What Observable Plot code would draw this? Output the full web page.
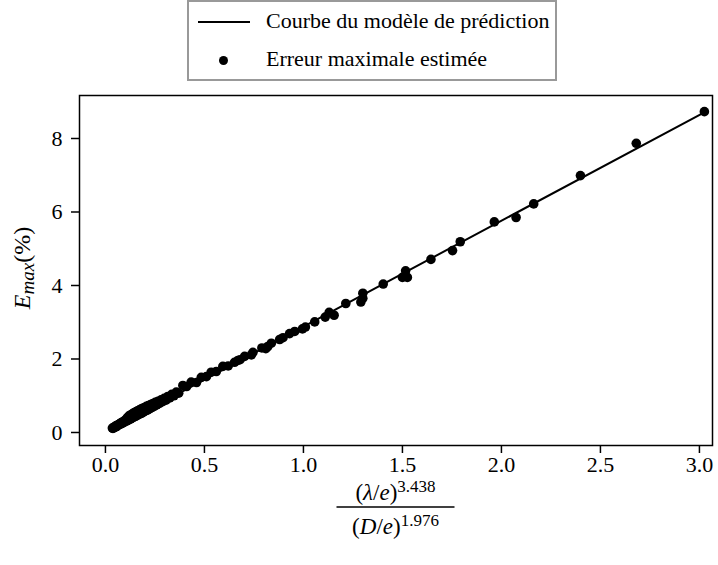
<!DOCTYPE html>
<html><head><meta charset="utf-8">
<script src="https://cdn.jsdelivr.net/npm/d3@7"></script>
<script src="https://cdn.jsdelivr.net/npm/@observablehq/plot@0.6"></script>
<style>
body{margin:0;background:#fff;}
#wrap{position:relative;width:718px;height:565px;font-family:"Liberation Serif",serif;overflow:hidden;}
#wrap svg{position:absolute;left:0;top:0;}
#legend{position:absolute;left:187px;top:0;width:366px;height:77px;border:2px solid #999;background:#fff;box-sizing:content-box;}
.row{position:absolute;left:0;height:30px;font-size:22px;line-height:30px;color:#000;white-space:nowrap;}
.row .lbl{position:absolute;left:77px;top:0;}
.row .ln{position:absolute;left:9px;top:15px;width:52px;height:2px;background:#000;}
.row .dt{position:absolute;left:30px;top:12px;width:9px;height:9px;border-radius:50%;background:#000;}
</style></head><body><div id="wrap"><div id="legend"></div></div>
<script>
// Reference data
const ratio = [0.035,0.038,0.042,0.045,0.048,0.052,0.055,0.058,0.062,0.066,0.070,0.073,0.077,0.080,0.084,0.088,0.092,0.095,0.099,0.103,0.106,0.110,0.113,0.117,0.120,0.124,0.128,0.132,0.135,0.139,0.143,0.147,0.151,0.155,0.159,0.163,0.167,0.171,0.175,0.180,0.184,0.188,0.193,0.197,0.202,0.207,0.212,0.217,0.222,0.228,0.234,0.240,0.246,0.252,0.259,0.266,0.273,0.281,0.289,0.297,0.306,0.315,0.325,0.335,0.346,0.358,0.370,
  0.391,0.410,0.433,0.460,0.484,0.510,0.534,0.560,0.593,0.620,0.652,0.669,0.680,0.703,0.737,0.745,0.790,0.810,0.820,0.838,0.880,0.897,0.930,0.956,0.995,1.010,1.057,1.110,1.130,1.155,1.214,1.290,1.300,1.300,1.403,1.500,1.525,1.516,1.644,1.753,1.792,1.964,2.074,2.163,2.399,2.681,3.025];
const emax = [0.12,0.11,0.14,0.13,0.16,0.15,0.19,0.17,0.20,0.21,0.22,0.24,0.23,0.27,0.25,0.29,0.27,0.31,0.30,0.35,0.31,0.40,0.33,0.44,0.35,0.47,0.37,0.49,0.40,0.52,0.42,0.54,0.44,0.57,0.46,0.59,0.49,0.61,0.51,0.64,0.53,0.66,0.56,0.68,0.59,0.71,0.61,0.73,0.64,0.76,0.68,0.79,0.71,0.82,0.75,0.85,0.79,0.89,0.84,0.93,0.88,0.98,0.94,1.04,1.00,1.10,1.07,
  1.28,1.25,1.37,1.36,1.50,1.52,1.64,1.66,1.80,1.81,1.91,1.96,1.98,2.07,2.11,2.18,2.30,2.28,2.34,2.43,2.53,2.58,2.69,2.75,2.82,2.87,3.01,3.14,3.27,3.19,3.51,3.55,3.65,3.79,4.04,4.22,4.22,4.40,4.71,4.95,5.19,5.73,5.85,6.22,6.99,7.87,8.73];
const modelX = [0.035, 3.02];
const modelY = [0.10, 8.70];
const xTicks = [0, 0.5, 1.0, 1.5, 2.0, 2.5, 3.0];
const yTicks = [0, 2, 4, 6, 8];
const legendLabels = ["Courbe du modèle de prédiction", "Erreur maximale estimée"];

const points = ratio.map((x, i) => ({x, y: emax[i]}));
const model = modelX.map((x, i) => ({x, y: modelY[i]}));
const FONT = '"Liberation Serif", serif';

const chart = Plot.plot({
  width: 718, height: 565,
  marginLeft: 79, marginRight: 6, marginTop: 95, marginBottom: 120,
  x: {domain: [-0.131, 3.066]},
  y: {domain: [-0.354, 9.17]},
  style: {fontFamily: FONT, fontSize: "22px", color: "black", background: "white", overflow: "visible"},
  marks: [
    Plot.line(model, {x: "x", y: "y", stroke: "black", strokeWidth: 2}),
    Plot.dot(points, {x: "x", y: "y", r: 4.8, fill: "black", stroke: "none"}),
    Plot.frame({stroke: "black", strokeWidth: 1.5}),
    Plot.axisX({ticks: xTicks, tickFormat: d3.format(".1f"), tickSize: 8, tickPadding: 3, label: null, strokeWidth: 1.5}),
    Plot.axisY({ticks: yTicks, tickFormat: d3.format("d"), tickSize: 8, tickPadding: 9, label: null, strokeWidth: 1.5})
  ]
});
document.getElementById("wrap").prepend(chart);

// Axis labels
const svg = d3.select(chart);
const cx = (79 + 712) / 2;
const yl = svg.append("text").attr("transform", "translate(30,268) rotate(-90)")
  .attr("text-anchor", "middle").attr("font-family", FONT).attr("font-size", 24).attr("fill", "black");
yl.append("tspan").attr("font-style", "italic").text("E");
yl.append("tspan").attr("font-style", "italic").attr("font-size", 19).attr("dy", 4).text("max");
yl.append("tspan").attr("dy", -4).text("(%)");

const num = svg.append("text").attr("x", cx).attr("y", 500).attr("text-anchor", "middle")
  .attr("font-family", FONT).attr("font-size", 23).attr("fill", "black");
num.append("tspan").text("(");
num.append("tspan").attr("font-style", "italic").text("λ");
num.append("tspan").text("/");
num.append("tspan").attr("font-style", "italic").text("e");
num.append("tspan").text(")");
num.append("tspan").attr("font-size", 17).attr("dy", -8).text("3.438");
svg.append("line").attr("x1", cx - 59).attr("x2", cx + 59).attr("y1", 507).attr("y2", 507)
  .attr("stroke", "black").attr("stroke-width", 1.3);
const den = svg.append("text").attr("x", cx).attr("y", 534).attr("text-anchor", "middle")
  .attr("font-family", FONT).attr("font-size", 23).attr("fill", "black");
den.append("tspan").text("(");
den.append("tspan").attr("font-style", "italic").text("D");
den.append("tspan").text("/");
den.append("tspan").attr("font-style", "italic").text("e");
den.append("tspan").text(")");
den.append("tspan").attr("font-size", 17).attr("dy", -8).text("1.976");

// Legend
const leg = document.getElementById("legend");
legendLabels.forEach((t, i) => {
  const r = document.createElement("div");
  r.className = "row";
  r.style.top = (i === 0 ? 4 : 42) + "px";
  r.style.width = "366px";
  r.innerHTML = (i === 0 ? '<div class="ln"></div>' : '<div class="dt"></div>') + '<span class="lbl"></span>';
  r.querySelector(".lbl").textContent = t;
  leg.appendChild(r);
});
</script></body></html>
